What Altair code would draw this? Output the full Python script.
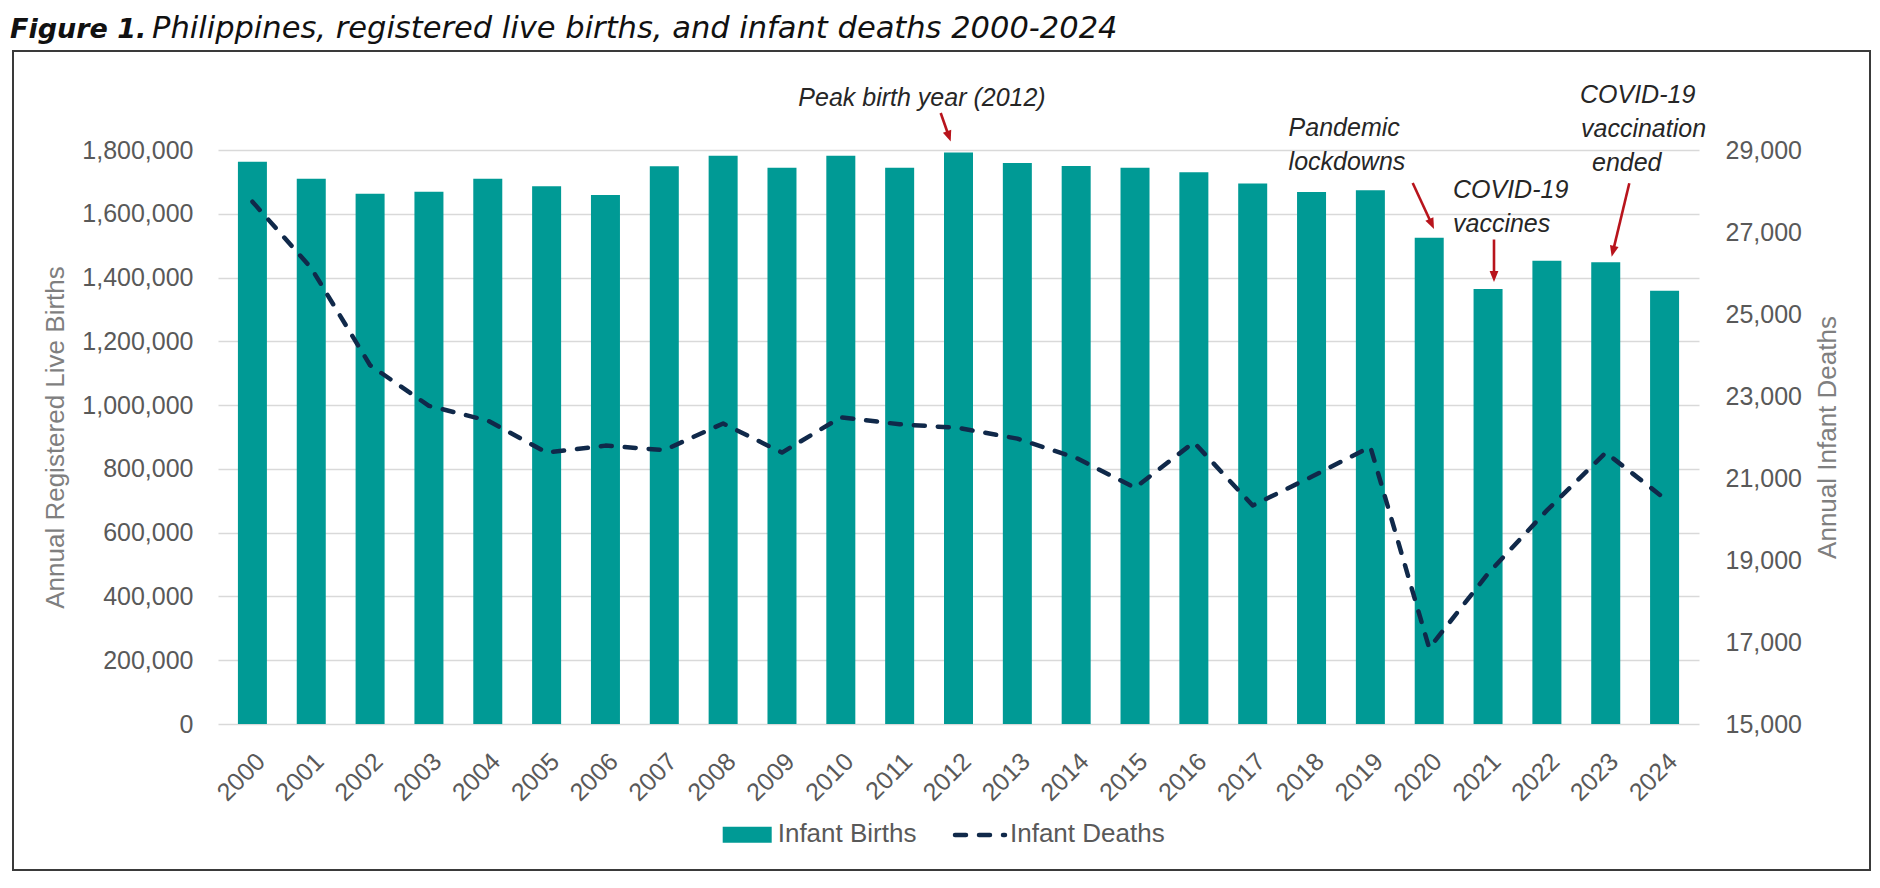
import altair as alt
import pandas as pd

# ---------------- data ----------------
years = list(range(2000, 2025))
births = [1763000, 1710000, 1663000, 1669000, 1710000, 1686000, 1659000, 1749000,
          1782000, 1744000, 1782000, 1744000, 1792000, 1759000, 1750000, 1744000,
          1730000, 1695000, 1668000, 1674000, 1525000, 1364000, 1453000, 1448000,
          1359000]
deaths = [27740, 26120, 23750, 22760, 22400, 21620, 21790, 21680, 22330, 21620,
          22480, 22310, 22220, 21960, 21490, 20760, 21870, 20330, 21030, 21760,
          16850, 18670, 20210, 21620, 20500]

birth_ticks = list(range(0, 1800001, 200000))
death_ticks = list(range(15000, 29001, 2000))

df = pd.DataFrame({"year": years, "births": births, "deaths": deaths})
ONE = pd.DataFrame({"k": [0]})

TEAL = "#009A95"
NAVY = "#10294a"
RED = "#b8141c"
LAB = "#595959"
TTL = "#7f7f7f"
FONT = "Liberation Sans"

W, H = 1481, 574

xscale = alt.Scale(domain=[1999.5, 2024.5], nice=False, zero=False)

bars = alt.Chart(df).mark_bar(color=TEAL, size=29).encode(
    x=alt.X("year:Q", scale=xscale,
            axis=alt.Axis(values=years, format="d", labelAngle=315, labelAlign="right",
                          labelBaseline="middle", labelPadding=33, labelOffset=8,
                          ticks=False, tickSize=0, domain=False, grid=False,
                          labelFontSize=25, labelColor=LAB, labelFont=FONT,
                          labelFlush=False, labelOverlap=False, labelBound=False,
                          title=None)),
    y=alt.Y("births:Q", scale=alt.Scale(domain=[0, 1800000], nice=False),
            axis=alt.Axis(values=birth_ticks, format=",d", grid=True, gridColor="#d9d9d9",
                          gridWidth=1.5, domain=False, ticks=False, tickSize=0,
                          labelPadding=25, labelFontSize=25, labelColor=LAB, labelFont=FONT,
                          title="Annual Registered Live Births", titleFontSize=26,
                          titleFontWeight="normal", titleColor=TTL, titleFont=FONT,
                          titleX=-163, titleY=H / 2, titleAngle=270, titleAlign="center",
                          titleBaseline="middle")),
)

line = alt.Chart(df).mark_line(color=NAVY, strokeWidth=4.5, strokeDash=[11, 13],
                               strokeCap="round", strokeJoin="round").encode(
    x=alt.X("year:Q", scale=xscale),
    y=alt.Y("deaths:Q", scale=alt.Scale(domain=[15000, 29000], nice=False, zero=False),
            axis=alt.Axis(orient="right", values=death_ticks, format=",d", grid=False,
                          domain=False, ticks=False, tickSize=0, labelPadding=26,
                          labelFontSize=25, labelColor=LAB, labelFont=FONT,
                          title="Annual Infant Deaths", titleFontSize=26,
                          titleFontWeight="normal", titleColor=TTL, titleFont=FONT,
                          titleX=128, titleY=H / 2, titleAngle=270, titleAlign="center",
                          titleBaseline="middle")),
)


# ---------------- decorations (pixel positions relative to plot area) ----------------
def txt(s, x, y, size=25, align="left", style="italic", weight="normal", font=FONT,
        color="#262626", baseline="alphabetic"):
    return alt.Chart(ONE).mark_text(text=s, align=align, baseline=baseline, fontSize=size,
                                    fontStyle=style, fontWeight=weight, font=font,
                                    color=color).encode(x=alt.value(x), y=alt.value(y))


def arrow(x1, y1, x2, y2):
    import math
    dx, dy = x2 - x1, y2 - y1
    L = math.hypot(dx, dy)
    ux, uy = dx / L, dy / L
    ang = (-math.degrees(math.atan2(dx, dy))) % 360
    shaft = alt.Chart(ONE).mark_rule(color=RED, strokeWidth=2.6).encode(
        x=alt.value(x1), y=alt.value(y1), x2=alt.value(x2 - ux * 8), y2=alt.value(y2 - uy * 8))
    head = alt.Chart(ONE).mark_point(shape="M -0.8 -1 L 0.8 -1 L 0 1 Z", filled=True,
                                     size=121, angle=ang, color=RED, opacity=1).encode(
        x=alt.value(x2 - ux * 5.5), y=alt.value(y2 - uy * 5.5))
    return [shaft, head]


deco = []
# outer frame
deco.append(alt.Chart(ONE).mark_rect(fillOpacity=0, stroke="#3a3a3a", strokeWidth=2).encode(
    x=alt.value(-205), x2=alt.value(1652), y=alt.value(-99), y2=alt.value(720)))
# figure title
deco.append(txt("Figure 1.", -208, -112, size=27, weight="bold", font="DejaVu Sans",
                color="#111111"))
deco.append(txt("Philippines, registered live births, and infant deaths 2000-2024", -66, -112,
                size=30.5, font="DejaVu Sans", color="#111111"))
# annotations
deco.append(txt("Peak birth year (2012)", 704, -44, align="center"))
deco += arrow(722.7, -37, 732.7, -8.4)
deco.append(txt("Pandemic", 1070.6, -13.6))
deco.append(txt("lockdowns", 1070.6, 20.3))
deco += arrow(1194.7, 33, 1216, 79)
deco.append(txt("COVID-19", 1235, 47.9))
deco.append(txt("vaccines", 1235, 82.2))
deco += arrow(1276, 89.5, 1276, 132)
deco.append(txt("COVID-19", 1362, -47))
deco.append(txt("vaccination", 1363, -13.3))
deco.append(txt("ended", 1374, 20.7))
deco += arrow(1411.3, 33.3, 1393.7, 106.7)
# legend
deco.append(alt.Chart(ONE).mark_rect(color=TEAL).encode(
    x=alt.value(504.7), x2=alt.value(553.7), y=alt.value(676.7), y2=alt.value(692.7)))
deco.append(txt("Infant Births", 559.7, 691.7, size=26, style="normal", color=LAB))
deco.append(alt.Chart(ONE).mark_rule(color=NAVY, strokeWidth=4.5, strokeDash=[11, 13],
                                     strokeCap="round").encode(
    x=alt.value(737), x2=alt.value(787), y=alt.value(685)))
deco.append(txt("Infant Deaths", 792, 691.7, size=26, style="normal", color=LAB))

chart = alt.layer(bars, line, *deco).resolve_scale(y="independent").properties(
    width=W, height=H,
    autosize=alt.AutoSizeParams(type="none"),
    padding={"left": 210, "top": 142, "right": 172, "bottom": 148},
    background="white",
).configure_view(stroke=None)

chart.save("out.html", embed_options={"renderer": "svg", "actions": False})
